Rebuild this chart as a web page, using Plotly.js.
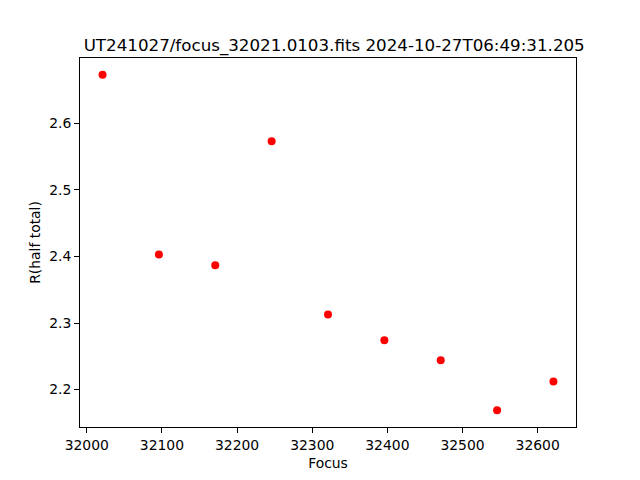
<!DOCTYPE html>
<html>
<head>
<meta charset="utf-8">
<script src="https://cdn.plot.ly/plotly-3.0.1.min.js"></script>
<style>html,body{margin:0;padding:0;background:#fff;}#chart{width:640px;height:480px;}</style>
</head>
<body>
<div id="chart"></div>
<script>
const focus = [32021, 32096, 32171, 32246, 32321, 32396, 32471, 32546, 32621];
const rHalfTotal = [2.673, 2.403, 2.387, 2.573, 2.313, 2.274, 2.244, 2.169, 2.212];
const xTicks = [32000, 32100, 32200, 32300, 32400, 32500, 32600];
const yTicks = [2.2, 2.3, 2.4, 2.5, 2.6];
const titleText = "UT241027/focus_32021.0103.fits 2024-10-27T06:49:31.205";

const font = {family: "DejaVu Sans", color: "#000"};
const data = [{
  x: focus, y: rHalfTotal, type: "scatter", mode: "markers",
  marker: {color: "#ff0000", size: 8}
}];
function pad(arr){const mn=Math.min(...arr),mx=Math.max(...arr),d=(mx-mn)*0.05;return [mn-d,mx+d];}
const layout = {
  width: 640, height: 480,
  margin: {l: 80, r: 64, t: 58, b: 53},
  paper_bgcolor: "#fff", plot_bgcolor: "#fff",
  showlegend: false,
  title: {text: titleText, font: {family: "DejaVu Sans", size: 16.7, color: "#000"}, xref: "paper", x: 328/640, xanchor: "center", y: 1 - 45/480, yanchor: "middle"},
  xaxis: {
    range: pad(focus), tickvals: xTicks, ticktext: xTicks.map(String),
    showgrid: false, zeroline: false, showline: true, mirror: true, linecolor: "#000", linewidth: 1,
    ticks: "outside", ticklen: 5, tickcolor: "#000", tickfont: {...font, size: 13.9},
    title: {text: "Focus", font: {...font, size: 13.9}, standoff: 6}
  },
  yaxis: {
    range: pad(rHalfTotal), tickvals: yTicks, ticktext: yTicks.map(v => v.toFixed(1)),
    showgrid: false, zeroline: false, showline: true, mirror: true, linecolor: "#000", linewidth: 1,
    ticks: "outside", ticklen: 5, tickcolor: "#000", tickfont: {...font, size: 13.9},
    title: {text: "R(half total)", font: {...font, size: 13.9}, standoff: 5}
  }
};
Plotly.newPlot("chart", data, layout, {displayModeBar: false, staticPlot: true});
</script>
</body>
</html>
